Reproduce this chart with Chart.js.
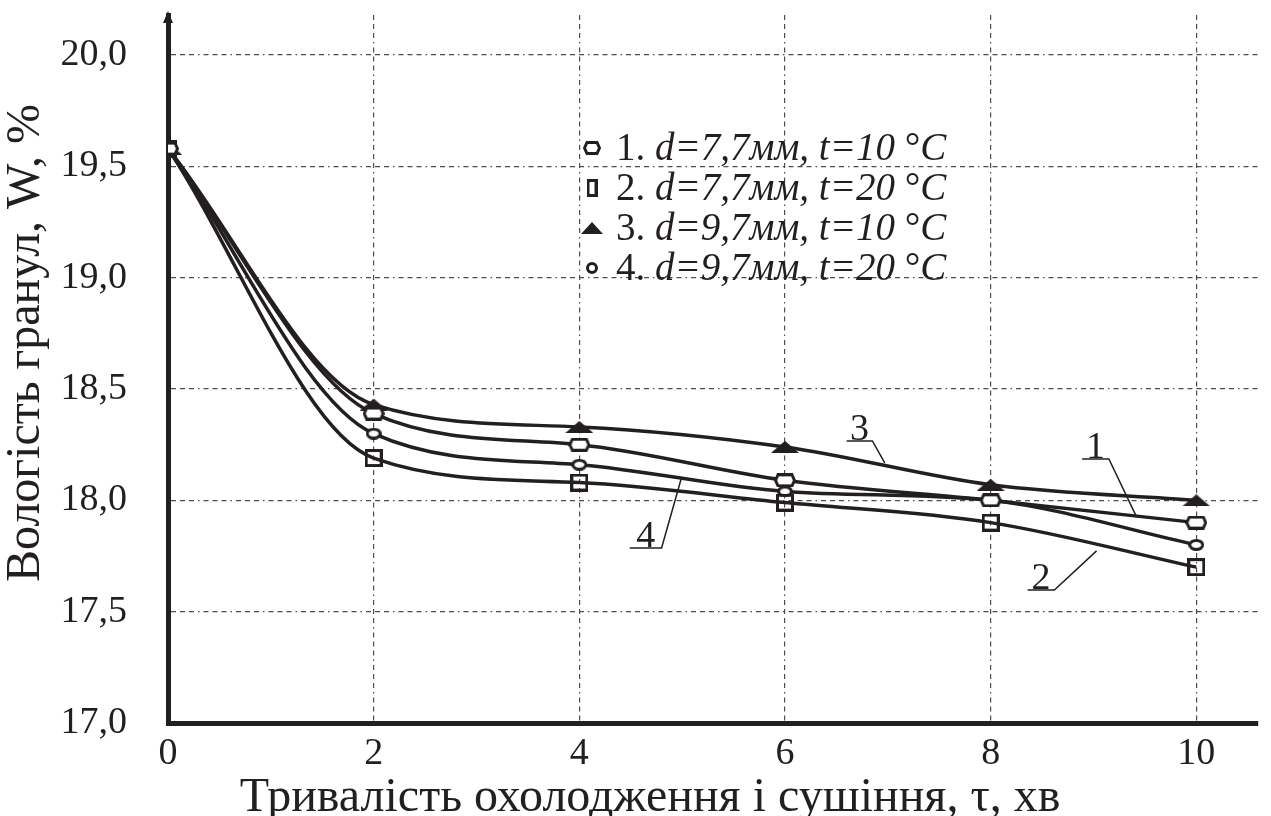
<!DOCTYPE html>
<html>
<head>
<meta charset="utf-8">
<script src="https://cdn.jsdelivr.net/npm/chart.js@4/dist/chart.umd.min.js"></script>
<style>
    html, body { margin: 0; padding: 0; background: #fff; }
    #wrap { width: 1271px; height: 816px; }
</style>
</head>
<body>
<div id="wrap"><canvas id="moistureChart"></canvas></div>
<script>
// Дані графіка
const tau = [0, 2, 4, 6, 8, 10];
const series1 = [19.58, 18.39, 18.25, 18.09, 18.0, 17.9];   // d=7,7мм, t=10 °C
const series2 = [19.58, 18.19, 18.08, 17.99, 17.9, 17.7];   // d=7,7мм, t=20 °C
const series3 = [19.58, 18.43, 18.33, 18.24, 18.07, 18.0];  // d=9,7мм, t=10 °C
const series4 = [19.58, 18.3, 18.16, 18.04, 18.0, 17.8];    // d=9,7мм, t=20 °C
const xTicks = [0, 2, 4, 6, 8, 10];
const yTicks = [17.0, 17.5, 18.0, 18.5, 19.0, 19.5, 20.0];
const legendLabels = [
    ['1. ', 'd=7,7мм, t=10', 'C'],
    ['2. ', 'd=7,7мм, t=20', 'C'],
    ['3. ', 'd=9,7мм, t=10', 'C'],
    ['4. ', 'd=9,7мм, t=20', 'C']
];
// номери кривих: текст, лінія підкреслення (x1, x2, y) і кінець виноски (x, y) у одиницях осей
const curveTags = [
    { text: '3', x1: 6.60, x2: 6.85, y: 18.267, tx: 6.97, ty: 18.168 },
    { text: '1', x1: 8.89, x2: 9.15, y: 18.186, tx: 9.42, ty: 17.925 },
    { text: '2', x1: 8.36, x2: 8.62, y: 17.597, tx: 9.03, ty: 17.773 },
    { text: '4', x1: 4.49, x2: 4.80, y: 17.786, tx: 4.99, ty: 18.096 }
];

const INK = '#231f20';
const SERIF = "'Liberation Serif', 'DejaVu Serif', serif";

// маркери малюємо на окремих полотнах
function makeMarker(w, h, draw) {
    const c = document.createElement('canvas');
    c.width = w;
    c.height = h;
    const g = c.getContext('2d');
    g.strokeStyle = INK;
    g.fillStyle = INK;
    draw(g, w, h);
    return c;
}

function hexMarker(w, h) {
    return makeMarker(w, h, (g, w, h) => {
        g.lineWidth = 3;
        g.beginPath();
        g.moveTo(4, 1.5); g.lineTo(w - 4, 1.5); g.lineTo(w - 1.5, h / 2);
        g.lineTo(w - 4, h - 1.5); g.lineTo(4, h - 1.5); g.lineTo(1.5, h / 2);
        g.closePath();
        g.fillStyle = '#fff';
        g.fill();
        g.stroke();
    });
}

function rectMarker(w, h) {
    return makeMarker(w, h, (g, w, h) => {
        g.lineWidth = 3;
        g.strokeRect(1.5, 1.5, w - 3, h - 3);
    });
}

function triMarker(w, h) {
    return makeMarker(w, h, (g, w, h) => {
        g.beginPath();
        g.moveTo(w / 2, 0); g.lineTo(w, h); g.lineTo(0, h);
        g.closePath();
        g.fill();
    });
}

function ovalMarker(w, h) {
    return makeMarker(w, h, (g, w, h) => {
        g.lineWidth = 3;
        g.beginPath();
        g.ellipse(w / 2, h / 2, w / 2 - 1.5, h / 2 - 1.5, 0, 0, Math.PI * 2);
        g.fillStyle = '#fff';
        g.fill();
        g.stroke();
    });
}

const pointImages = [hexMarker(22, 14), rectMarker(18, 18), triMarker(28, 12), ovalMarker(16, 12)];
const legendImages = [hexMarker(18, 14), rectMarker(11, 18), triMarker(22, 12), ovalMarker(12, 12)];

function toPoints(values) {
    return values.map((v, i) => ({ x: tau[i], y: v }));
}

function makeDataset(label, values, idx) {
    return {
        label: label,
        data: toPoints(values),
        borderColor: INK,
        backgroundColor: INK,
        borderWidth: 3.5,
        cubicInterpolationMode: 'monotone',
        pointStyle: pointImages[idx],
        pointRadius: 6,
        fill: false
    };
}

// легенда, номери кривих, стрілка осі і підписи осей
const decorPlugin = {
    id: 'decor',
    afterDatasetsDraw(chart) {
        const { ctx, chartArea, scales } = chart;
        const xs = scales.x, ys = scales.y;
        ctx.save();

        // стрілка на осі Y
        ctx.fillStyle = INK;
        ctx.beginPath();
        ctx.moveTo(chartArea.left, chartArea.top - 4);
        ctx.lineTo(chartArea.left + 5, chartArea.top + 8);
        ctx.lineTo(chartArea.left - 5, chartArea.top + 8);
        ctx.closePath();
        ctx.fill();

        // номери кривих з виносками
        ctx.strokeStyle = INK;
        ctx.lineWidth = 1.5;
        ctx.font = '38px ' + SERIF;
        ctx.textAlign = 'center';
        ctx.textBaseline = 'alphabetic';
        curveTags.forEach(t => {
            const x1 = xs.getPixelForValue(t.x1);
            const x2 = xs.getPixelForValue(t.x2);
            const y = ys.getPixelForValue(t.y);
            ctx.beginPath();
            ctx.moveTo(x1, y);
            ctx.lineTo(x2, y);
            ctx.lineTo(xs.getPixelForValue(t.tx), ys.getPixelForValue(t.ty));
            ctx.stroke();
            ctx.fillText(t.text, (x1 + x2) / 2, y - 1);
        });

        // легенда
        const lx = 592, ly = 148, step = 40;
        ctx.textAlign = 'left';
        ctx.textBaseline = 'middle';
        legendLabels.forEach((parts, i) => {
            const cy = ly + i * step;
            const img = legendImages[i];
            ctx.drawImage(img, lx - img.width / 2, cy - img.height / 2);
            let x = lx + 24;
            const runs = [
                [parts[0], 'normal'],
                [parts[1], 'italic'],
                [' °', 'normal'],
                [parts[2], 'italic']
            ];
            runs.forEach(([txt, style]) => {
                ctx.font = (style === 'italic' ? 'italic ' : '') + '39px ' + SERIF;
                ctx.fillText(txt, x, cy + 2);
                x += ctx.measureText(txt).width;
            });
        });

        // підписи осей
        ctx.font = '48px ' + SERIF;
        ctx.textAlign = 'center';
        ctx.textBaseline = 'middle';
        ctx.fillText('Тривалість охолодження і сушіння, τ, хв', 650, 798);
        ctx.translate(26, 343);
        ctx.rotate(-Math.PI / 2);
        ctx.fillText('Вологість гранул, W, %', 0, 0);
        ctx.restore();
    }
};

const gridDash = [5, 4, 5, 4, 5, 4, 1.5, 4];

new Chart(document.getElementById('moistureChart'), {
    type: 'line',
    data: {
        datasets: [
            makeDataset('1', series1, 0),
            makeDataset('2', series2, 1),
            makeDataset('3', series3, 2),
            makeDataset('4', series4, 3)
        ]
    },
    options: {
        responsive: true,
        maintainAspectRatio: false,
        animation: false,
        layout: { padding: { top: 15, right: 13, left: 0, bottom: 0 } },
        plugins: {
            legend: { display: false },
            tooltip: { enabled: false }
        },
        scales: {
            x: {
                type: 'linear',
                min: 0,
                max: 10.6,
                afterBuildTicks: scale => { scale.ticks = xTicks.map(v => ({ value: v })); },
                afterFit: scale => {
                    scale.height = 93;
                    scale.paddingLeft = 0;
                    scale.paddingRight = 0;
                },
                ticks: {
                    color: INK,
                    padding: 8,
                    font: { family: SERIF, size: 38 },
                    callback: v => String(v)
                },
                grid: {
                    drawTicks: false,
                    lineWidth: 1.2,
                    color: c => (c.tick && c.tick.value === 0) ? 'rgba(0,0,0,0)' : '#4d4d4d'
                },
                border: { display: true, color: INK, width: 5, dash: gridDash }
            },
            y: {
                min: 17,
                max: 20.18,
                afterBuildTicks: scale => { scale.ticks = yTicks.map(v => ({ value: v })); },
                afterFit: scale => {
                    scale.width = 168;
                    scale.paddingTop = 0;
                    scale.paddingBottom = 0;
                },
                ticks: {
                    color: INK,
                    padding: 41,
                    font: { family: SERIF, size: 38 },
                    callback: v => Number(v).toFixed(1).replace('.', ',')
                },
                grid: {
                    drawTicks: false,
                    lineWidth: 1.2,
                    color: c => (c.tick && c.tick.value === 17) ? 'rgba(0,0,0,0)' : '#4d4d4d'
                },
                border: { display: true, color: INK, width: 5, dash: gridDash }
            }
        }
    },
    plugins: [decorPlugin]
});
</script>
</body>
</html>
